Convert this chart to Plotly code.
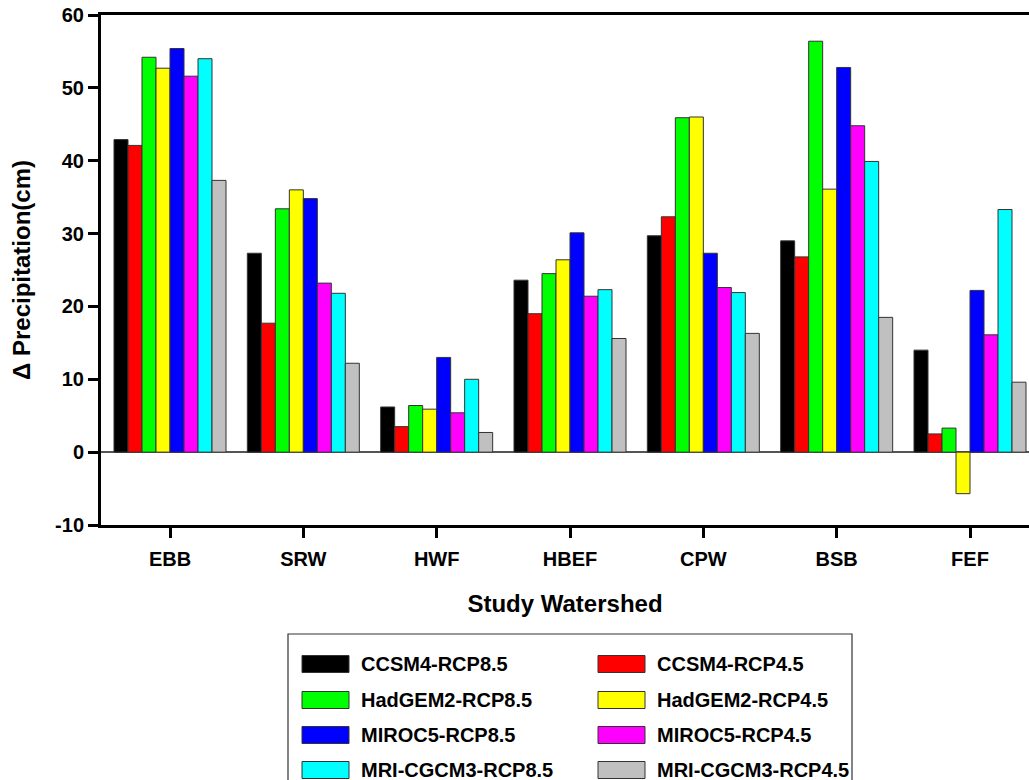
import plotly.graph_objects as go

watersheds = ["EBB", "SRW", "HWF", "HBEF", "CPW", "BSB", "FEF"]

series_names = [
    "CCSM4-RCP8.5", "CCSM4-RCP4.5",
    "HadGEM2-RCP8.5", "HadGEM2-RCP4.5",
    "MIROC5-RCP8.5", "MIROC5-RCP4.5",
    "MRI-CGCM3-RCP8.5", "MRI-CGCM3-RCP4.5",
]
series_colors = ["#000000", "#ff0000", "#00ff00", "#ffff00",
                 "#0000ff", "#ff00ff", "#00ffff", "#c0c0c0"]

ccsm4_85 = [42.9, 27.3, 6.2, 23.6, 29.7, 29.0, 14.0]
ccsm4_45 = [42.1, 17.7, 3.5, 19.0, 32.3, 26.8, 2.5]
hadgem2_85 = [54.2, 33.4, 6.4, 24.5, 45.9, 56.4, 3.3]
hadgem2_45 = [52.7, 36.0, 5.9, 26.4, 46.0, 36.1, -5.7]
miroc5_85 = [55.4, 34.8, 13.0, 30.1, 27.3, 52.8, 22.2]
miroc5_45 = [51.6, 23.2, 5.4, 21.4, 22.6, 44.8, 16.1]
mri_85 = [54.0, 21.8, 10.0, 22.3, 21.9, 39.9, 33.3]
mri_45 = [37.3, 12.2, 2.7, 15.6, 16.3, 18.5, 9.6]

series_values = [ccsm4_85, ccsm4_45, hadgem2_85, hadgem2_45,
                 miroc5_85, miroc5_45, mri_85, mri_45]

y_ticks = [-10, 0, 10, 20, 30, 40, 50, 60]
y_tick_text = ["-10", "0", "10", "20", "30", "40", "50", "60"]

FONT = "Liberation Sans, Arial, sans-serif"

fig = go.Figure()
for name, color, vals in zip(series_names, series_colors, series_values):
    fig.add_trace(go.Bar(
        x=watersheds, y=vals, name=name,
        marker=dict(color=color, line=dict(color="#333333", width=1)),
        showlegend=False, hoverinfo="skip",
    ))

# geometry of the plot area (pixels)
W, H = 1029, 780
L, R, T, B = 101, 0, 15, 255
pw = W - L - R
ph = H - T - B


def px(xpix):
    return (xpix - L) / pw


def py(ypix):
    return (H - B - ypix) / ph


shapes = []
annotations = []
# legend box
shapes.append(dict(type="rect", xref="paper", yref="paper",
                   x0=px(288), x1=px(852), y0=py(800), y1=py(634),
                   line=dict(color="#333333", width=1.2), fillcolor="rgba(0,0,0,0)"))
col_x = [302, 598]
row_y = [664, 700, 735, 770]
for i, (name, color) in enumerate(zip(series_names, series_colors)):
    r, c = divmod(i, 2)
    cx = col_x[c]
    cy = row_y[r]
    shapes.append(dict(type="rect", xref="paper", yref="paper",
                       x0=px(cx), x1=px(cx + 47), y0=py(cy + 8.5), y1=py(cy - 8.5),
                       line=dict(color="#333333", width=1), fillcolor=color))
    annotations.append(dict(xref="paper", yref="paper", x=px(cx + 57), y=py(cy),
                            xanchor="left", yanchor="middle", showarrow=False,
                            text="<b>%s</b>" % name,
                            font=dict(family=FONT, size=20, color="#000000")))

fig.update_layout(
    width=W, height=H,
    margin=dict(l=L, r=R, t=T, b=B, pad=0),
    paper_bgcolor="white", plot_bgcolor="white",
    barmode="group", bargap=0.16, bargroupgap=0,
    font=dict(family=FONT, color="#000000"),
    shapes=shapes, annotations=annotations,
    xaxis=dict(
        range=[-0.5175, 6.4425],
        showline=True, linewidth=3, linecolor="#000000", mirror=True,
        ticks="outside", ticklen=10, tickwidth=3, tickcolor="#000000",
        ticklabelstandoff=4,
        tickfont=dict(family=FONT, size=20, color="#000000", weight="bold"),
        showgrid=False, zeroline=False,
        title=dict(text="<b>Study Watershed</b>", standoff=27,
                   font=dict(family=FONT, size=24, color="#000000")),
    ),
    yaxis=dict(
        range=[-10, 60], tickvals=y_ticks, ticktext=y_tick_text,
        showline=True, linewidth=3, linecolor="#000000", mirror=False,
        ticks="outside", ticklen=10, tickwidth=3, tickcolor="#000000",
        tickfont=dict(family=FONT, size=20, color="#000000", weight="bold"),
        showgrid=False,
        zeroline=True, zerolinecolor="#555555", zerolinewidth=1.5,
        title=dict(text="<b>Δ Precipitation(cm)</b>", standoff=18,
                   font=dict(family=FONT, size=24, color="#000000")),
    ),
)

fig.write_html(
    "out.html",
    config={"displayModeBar": False},
    post_script="document.body.style.margin='0';document.body.style.overflow='hidden';",
)
